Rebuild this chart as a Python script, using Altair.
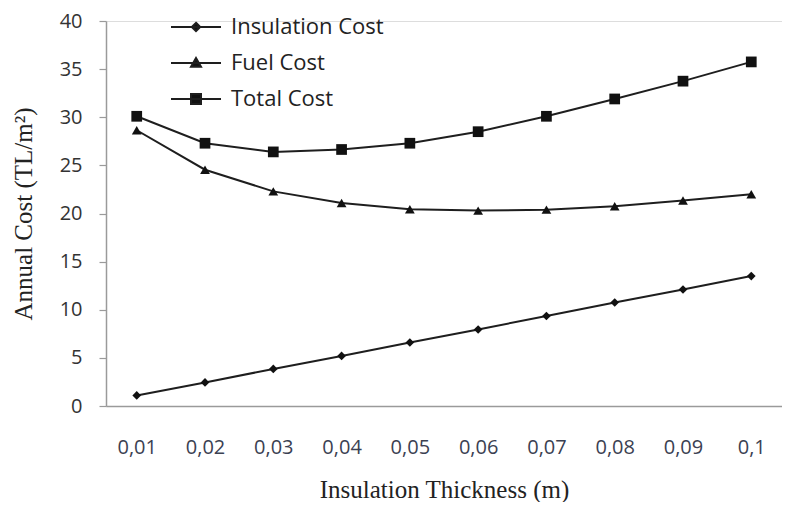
import altair as alt
import pandas as pd

thickness = ["0,01", "0,02", "0,03", "0,04", "0,05", "0,06", "0,07", "0,08", "0,09", "0,1"]
insulation_cost = [1.1, 2.45, 3.85, 5.2, 6.6, 7.95, 9.35, 10.75, 12.1, 13.5]
fuel_cost = [28.65, 24.55, 22.3, 21.1, 20.45, 20.3, 20.4, 20.75, 21.35, 22.0]
total_cost = [30.1, 27.3, 26.4, 26.65, 27.3, 28.5, 30.1, 31.9, 33.75, 35.75]

series_names = ["Insulation Cost", "Fuel Cost", "Total Cost"]
series_values = [insulation_cost, fuel_cost, total_cost]
marker_shapes = ["diamond", "triangle-up", "square"]
marker_sizes = [75, 95, 115]

rows = []
for name, vals in zip(series_names, series_values):
    for t, v in zip(thickness, vals):
        rows.append({"thickness": t, "cost": v, "series": name})
df = pd.DataFrame(rows)

x_enc = alt.X("thickness:O", sort=thickness,
              scale=alt.Scale(type="point", padding=0.45),
              axis=alt.Axis(title="Insulation Thickness (m)", labelAngle=0, ticks=False,
                            domainColor="#9a9a9a", domainWidth=1.5,
                            labelFont="Open Sans", labelFontSize=20, labelColor="#3b4152",
                            labelPadding=31, titleFont="Liberation Serif", titleFontSize=25,
                            titleFontWeight="normal", titleColor="#222222", titlePadding=20))
y_enc = alt.Y("cost:Q", scale=alt.Scale(domain=[0, 40]),
              axis=alt.Axis(title="Annual Cost (TL/m²)", values=list(range(0, 41, 5)), grid=False,
                            domainColor="#9a9a9a", domainWidth=1.5, tickColor="#9a9a9a",
                            tickSize=7, tickWidth=1.2, labelFont="Open Sans", labelFontSize=20,
                            labelColor="#333333", labelPadding=17,
                            titleFont="Liberation Serif", titleFontSize=25,
                            titleFontWeight="normal", titleColor="#222222", titlePadding=23))

base = alt.Chart(df)

lines = base.mark_line(color="#1e1e1e", strokeWidth=2).encode(
    x=x_enc, y=y_enc, detail="series:N")

point_layers = []
for name, shp, sz in zip(series_names, marker_shapes, marker_sizes):
    point_layers.append(
        base.transform_filter(alt.datum.series == name)
        .mark_point(filled=True, color="#111111", opacity=1, shape=shp, size=sz)
        .encode(x=x_enc, y=y_enc)
    )

legend_paths = [
    "M-2.5,0H2.5M0,-0.42L0.42,0L0,0.42L-0.42,0Z",
    "M-2.5,0H2.5M0,-0.5L0.5,0.38H-0.5Z",
    "M-2.5,0H2.5M-0.5,-0.5H0.5V0.5H-0.5Z",
]

legend_layer = base.mark_point(filled=False, color="#1e1e1e", fill="#111111", stroke="#1e1e1e",
                               strokeWidth=2, opacity=0).encode(
    x=x_enc, y=y_enc,
    shape=alt.Shape("series:N", sort=series_names,
                    scale=alt.Scale(domain=series_names, range=legend_paths),
                    legend=alt.Legend(title=None, orient="none", legendX=79, legendY=-5,
                                      padding=0, symbolSize=400, labelOffset=24, rowPadding=14,
                                      labelFont="Open Sans", labelFontSize=22,
                                      labelColor="#222222", labelLimit=300,
                                      symbolOpacity=1, symbolStrokeWidth=2)))

chart = alt.layer(lines, *point_layers, legend_layer).properties(
    width=676, height=385,
    padding={"left": 98, "top": 13, "right": 0, "bottom": 96},
    autosize=alt.AutoSizeParams(type="none"),
).configure_view(stroke=None).configure(background="white")

chart.save("out.html", embed_options={"renderer": "svg", "actions": False})
